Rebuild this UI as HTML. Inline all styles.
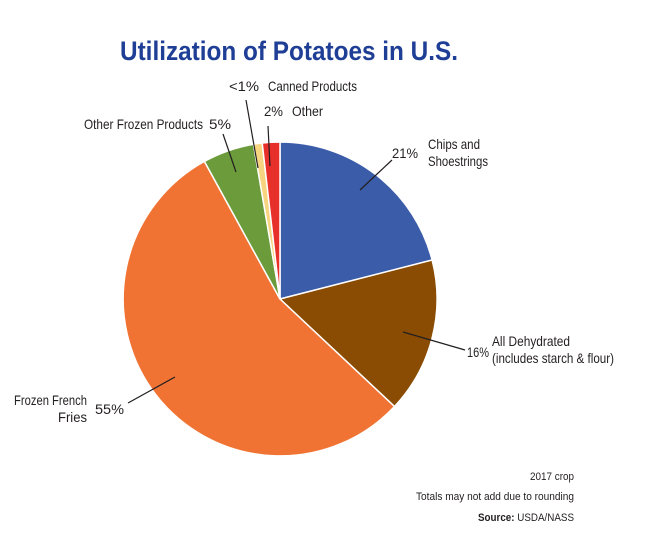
<!DOCTYPE html>
<html><head><meta charset="utf-8"><style>
html,body{margin:0;padding:0;background:#fff;}
svg{display:block;}
text{font-family:"Liberation Sans",sans-serif;fill:#231f20;}
</style></head><body>
<svg width="647" height="537" viewBox="0 0 647 537" xmlns="http://www.w3.org/2000/svg">
<text x="289" y="60" text-anchor="middle" font-size="27" font-weight="bold" style="fill:#1f3e96" textLength="338" lengthAdjust="spacingAndGlyphs">Utilization of Potatoes in U.S.</text>
<g stroke="#fff" stroke-width="1.5">
<path d="M280,299 L280,142 A157,157 0 0 1 432.1,260 Z" fill="#3b5ca9"/>
<path d="M280,299 L432.1,260 A157,157 0 0 1 394.5,406.5 Z" fill="#8a4c02"/>
<path d="M280,299 L394.5,406.5 A157,157 0 1 1 204.4,161.4 Z" fill="#f07333"/>
<path d="M280,299 L204.4,161.4 A157,157 0 0 1 253.5,144.2 Z" fill="#6b9b3b"/>
<path d="M280,299 L253.5,144.2 A157,157 0 0 1 262.2,143 Z" fill="#f7d47f"/>
<path d="M280,299 L262.2,143 A157,157 0 0 1 280,142 Z" fill="#e8302a"/>
</g>
<g stroke="#231f20" stroke-width="1.2">
<line x1="360" y1="190" x2="392" y2="160"/>
<line x1="403" y1="332" x2="465" y2="350"/>
<line x1="128" y1="403" x2="175" y2="377"/>
<line x1="223" y1="134" x2="236" y2="172"/>
<line x1="246" y1="100" x2="258" y2="168"/>
<line x1="268" y1="126" x2="270" y2="166"/>
</g>
<g font-size="14">
<text x="392" y="158" textLength="26" lengthAdjust="spacingAndGlyphs">21%</text>
<text x="428" y="149" textLength="52" lengthAdjust="spacingAndGlyphs">Chips and</text>
<text x="428" y="166" textLength="60" lengthAdjust="spacingAndGlyphs">Shoestrings</text>
<text x="467" y="357" textLength="22" lengthAdjust="spacingAndGlyphs">16%</text>
<text x="492" y="346" textLength="78" lengthAdjust="spacingAndGlyphs">All Dehydrated</text>
<text x="492" y="363" textLength="122" lengthAdjust="spacingAndGlyphs">(includes starch &amp; flour)</text>
<text x="14" y="405" textLength="73" lengthAdjust="spacingAndGlyphs">Frozen French</text>
<text x="58" y="422" textLength="29" lengthAdjust="spacingAndGlyphs">Fries</text>
<text x="95" y="414" textLength="29" lengthAdjust="spacingAndGlyphs">55%</text>
<text x="84" y="129" textLength="119" lengthAdjust="spacingAndGlyphs">Other Frozen Products</text>
<text x="209" y="129" textLength="22" lengthAdjust="spacingAndGlyphs">5%</text>
<text x="229" y="91" textLength="30" lengthAdjust="spacingAndGlyphs">&lt;1%</text>
<text x="268" y="91" textLength="89" lengthAdjust="spacingAndGlyphs">Canned Products</text>
<text x="264" y="116" textLength="19" lengthAdjust="spacingAndGlyphs">2%</text>
<text x="292" y="116" textLength="31" lengthAdjust="spacingAndGlyphs">Other</text>
</g>
<g font-size="11">
<text x="530" y="480" textLength="44" lengthAdjust="spacingAndGlyphs">2017 crop</text>
<text x="416" y="500" textLength="158" lengthAdjust="spacingAndGlyphs">Totals may not add due to rounding</text>
<text x="478" y="521" textLength="96" lengthAdjust="spacingAndGlyphs"><tspan font-weight="bold">Source:</tspan> USDA/NASS</text>
</g>
</svg>
</body></html>
